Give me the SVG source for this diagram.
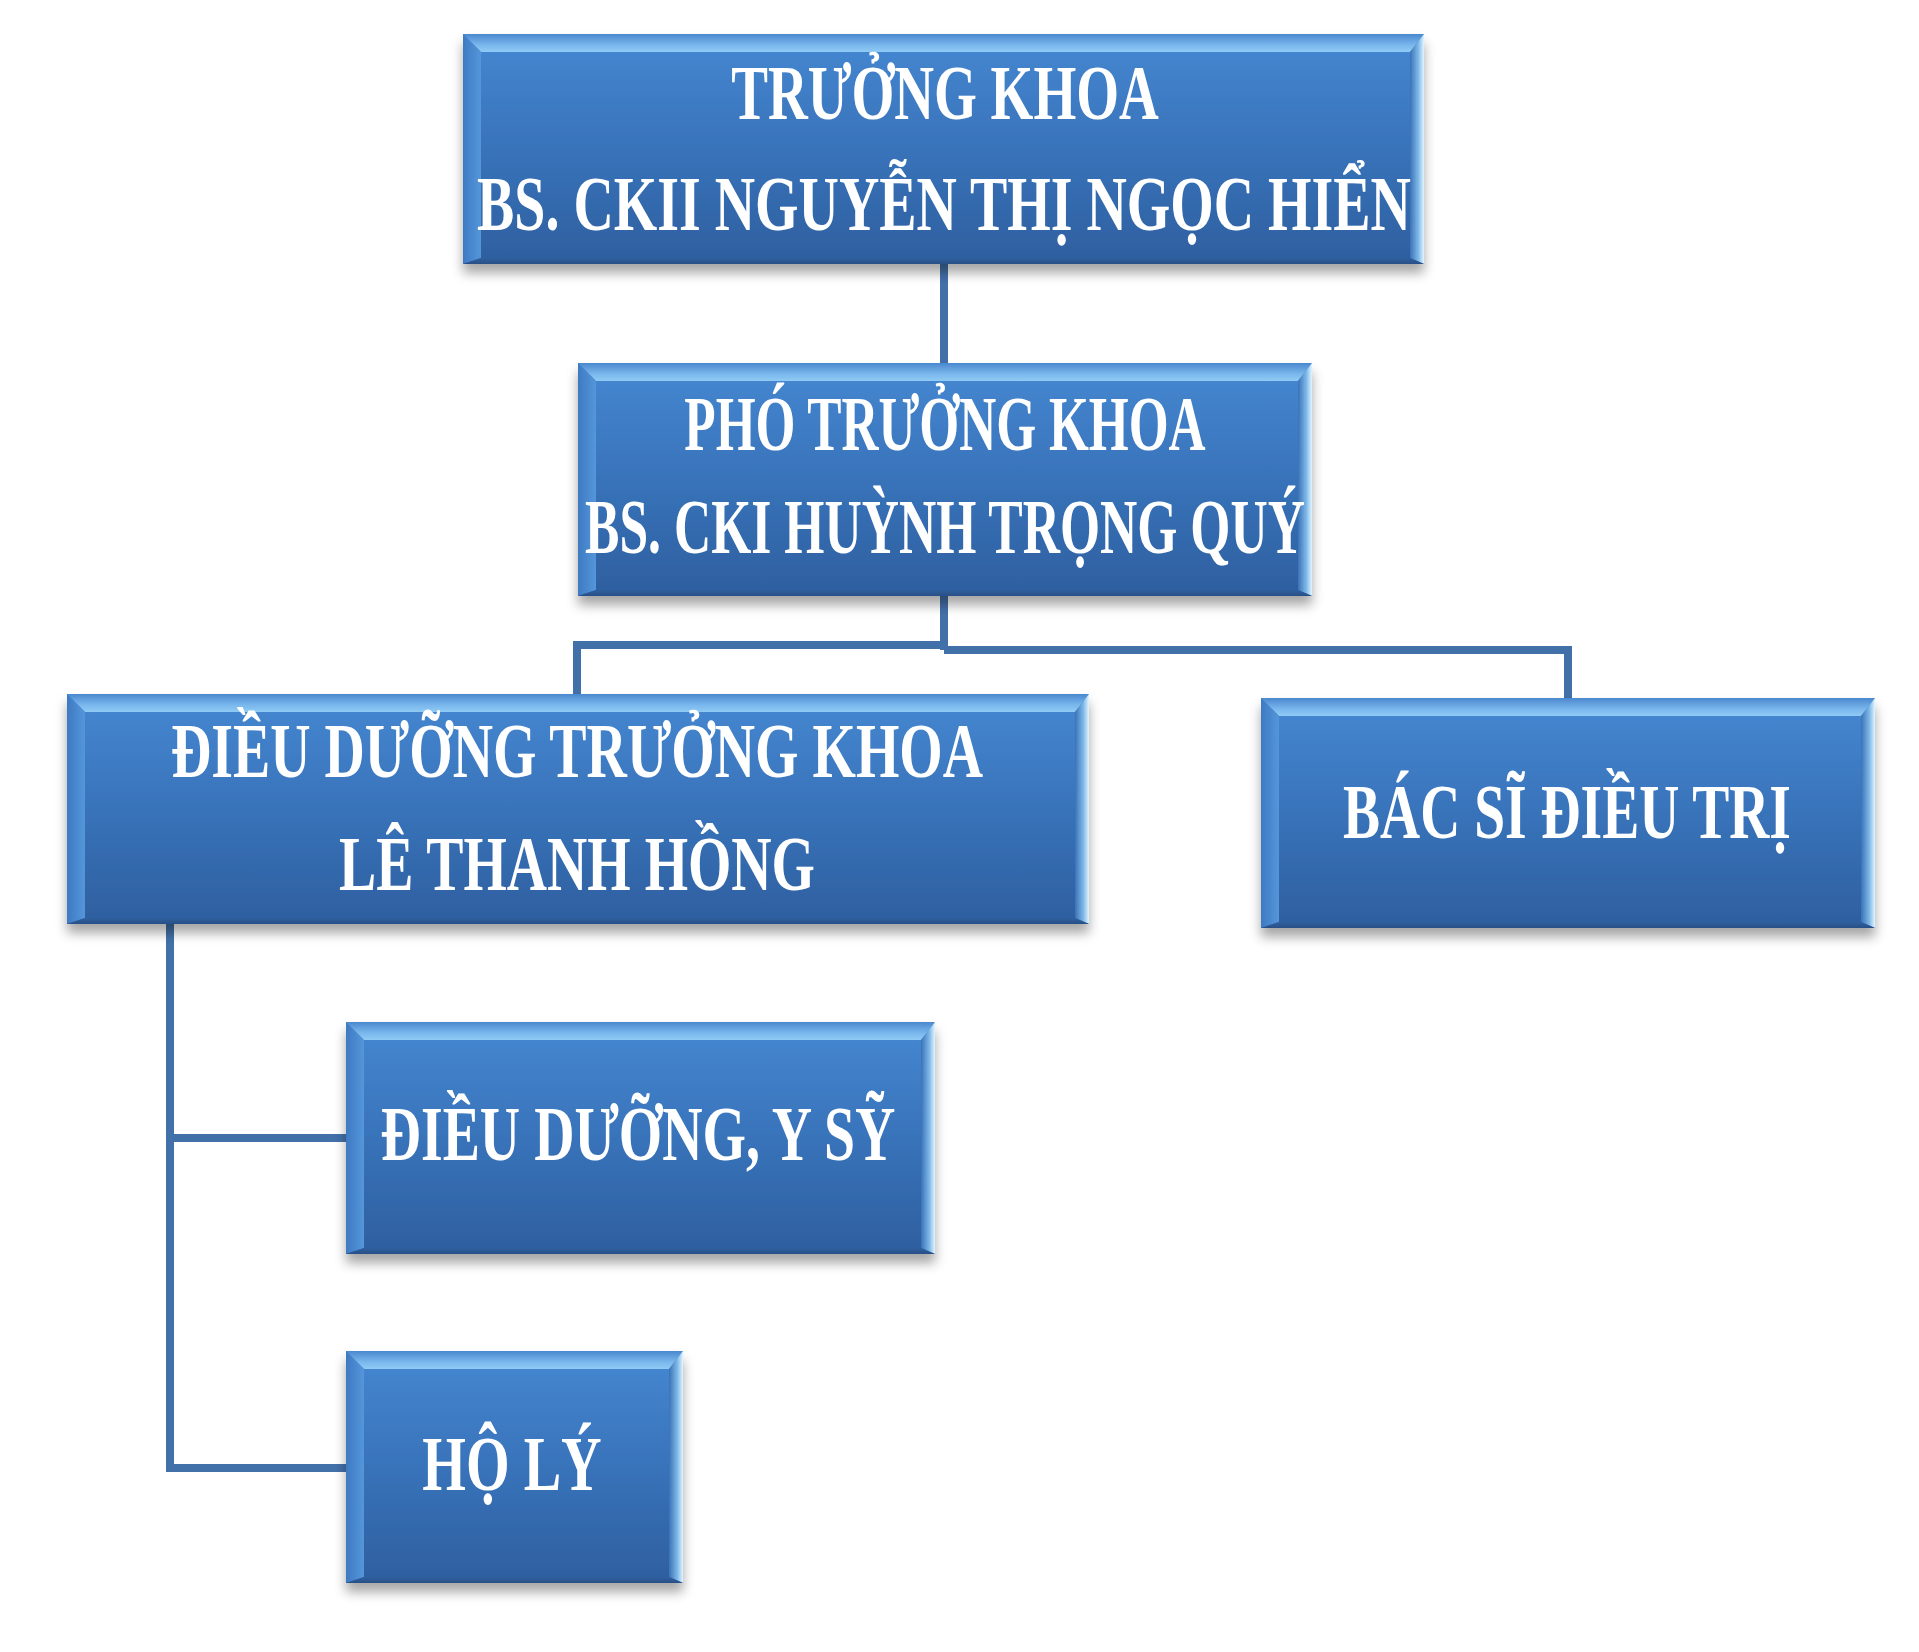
<svg xmlns="http://www.w3.org/2000/svg" width="1919" height="1652" viewBox="0 0 1919 1652">
<defs>
<linearGradient id="face" x1="0" y1="0" x2="0" y2="1">
<stop offset="0" stop-color="#4688D2"/>
<stop offset="0.5" stop-color="#3873BA"/>
<stop offset="1" stop-color="#2E5F9F"/>
</linearGradient>
<linearGradient id="bevTop" x1="0" y1="0" x2="0" y2="1">
<stop offset="0" stop-color="#4A88CF"/>
<stop offset="0.6" stop-color="#79B6EC"/>
<stop offset="1" stop-color="#8FCBF4"/>
</linearGradient>
<linearGradient id="bevLeft" x1="0" y1="0" x2="1" y2="0">
<stop offset="0" stop-color="#3D7AC2"/>
<stop offset="1" stop-color="#5596DA"/>
</linearGradient>
<linearGradient id="bevRight" x1="0" y1="0" x2="1" y2="0">
<stop offset="0" stop-color="#3A72B8"/>
<stop offset="0.6" stop-color="#7FB9E8"/>
<stop offset="1" stop-color="#E2F5FF"/>
</linearGradient>
<linearGradient id="bevBottom" x1="0" y1="0" x2="0" y2="1">
<stop offset="0" stop-color="#30609F"/>
<stop offset="1" stop-color="#284F86"/>
</linearGradient>
<filter id="shadow" x="-5%" y="-10%" width="110%" height="130%">
<feDropShadow dx="0" dy="9" stdDeviation="6" flood-color="#000" flood-opacity="0.35"/>
</filter>
</defs>
<style>
.face{fill:url(#face);filter:url(#shadow)}
.bt{fill:url(#bevTop)}
.bl{fill:url(#bevLeft)}
.br{fill:url(#bevRight)}
.bb{fill:url(#bevBottom)}
.lbl{font-family:"Liberation Serif","Times New Roman",serif;font-weight:bold;font-size:78px;fill:#FFFFFF;text-anchor:middle}
.conn{fill:none;stroke:#4270A8;stroke-width:8;stroke-linejoin:miter;stroke-linecap:butt}
</style>
<rect width="1919" height="1652" fill="#FFFFFF"/>
<g id="connectors">
<path class="conn" d="M944,264 V363"/>
<path class="conn" d="M944,596 V650"/>
<path class="conn" d="M944,645 H577 V694"/>
<path class="conn" d="M944,650 H1568 V698"/>
<path class="conn" d="M170,924 V1468 H346"/>
<path class="conn" d="M170,1138 H346"/>
</g>
<g id="truong-khoa">
<rect class="face" x="463" y="34" width="961" height="230"/>
<polygon class="bt" points="463,34 1424,34 1410,52 481,52"/>
<polygon class="bl" points="463,34 481,52 481,258 463,264"/>
<polygon class="br" points="1424,34 1424,264 1410,258 1410,52"/>
<polygon class="bb" points="463,264 1424,264 1410,258 481,258"/>
<text class="lbl" transform="matrix(0.72 0 0 1 945 0)" x="0" y="119" textLength="594" lengthAdjust="spacingAndGlyphs">TRƯỞNG KHOA</text>
<text class="lbl" transform="matrix(0.72 0 0 1 944 0)" x="0" y="230" textLength="1297" lengthAdjust="spacingAndGlyphs">BS. CKII NGUYỄN THỊ NGỌC HIỂN</text>
</g>
<g id="pho-truong-khoa">
<rect class="face" x="578" y="363" width="734" height="233"/>
<polygon class="bt" points="578,363 1312,363 1298,381 596,381"/>
<polygon class="bl" points="578,363 596,381 596,590 578,596"/>
<polygon class="br" points="1312,363 1312,596 1298,590 1298,381"/>
<polygon class="bb" points="578,596 1312,596 1298,590 596,590"/>
<text class="lbl" transform="matrix(0.72 0 0 1 945 0)" x="0" y="450" textLength="724" lengthAdjust="spacingAndGlyphs">PHÓ TRƯỞNG KHOA</text>
<text class="lbl" transform="matrix(0.72 0 0 1 945 0)" x="0" y="553" textLength="1000" lengthAdjust="spacingAndGlyphs">BS. CKI HUỲNH TRỌNG QUÝ</text>
</g>
<g id="dieu-duong-truong-khoa">
<rect class="face" x="67" y="694" width="1022" height="230"/>
<polygon class="bt" points="67,694 1089,694 1075,712 85,712"/>
<polygon class="bl" points="67,694 85,712 85,918 67,924"/>
<polygon class="br" points="1089,694 1089,924 1075,918 1075,712"/>
<polygon class="bb" points="67,924 1089,924 1075,918 85,918"/>
<text class="lbl" transform="matrix(0.72 0 0 1 577 0)" x="0" y="777" textLength="1128" lengthAdjust="spacingAndGlyphs">ĐIỀU DƯỠNG TRƯỞNG KHOA</text>
<text class="lbl" transform="matrix(0.72 0 0 1 577 0)" x="0" y="890" textLength="661" lengthAdjust="spacingAndGlyphs">LÊ THANH HỒNG</text>
</g>
<g id="bac-si-dieu-tri">
<rect class="face" x="1261" y="698" width="614" height="230"/>
<polygon class="bt" points="1261,698 1875,698 1861,716 1279,716"/>
<polygon class="bl" points="1261,698 1279,716 1279,922 1261,928"/>
<polygon class="br" points="1875,698 1875,928 1861,922 1861,716"/>
<polygon class="bb" points="1261,928 1875,928 1861,922 1279,922"/>
<text class="lbl" transform="matrix(0.72 0 0 1 1567 0)" x="0" y="838" textLength="622" lengthAdjust="spacingAndGlyphs">BÁC SĨ ĐIỀU TRỊ</text>
</g>
<g id="dieu-duong-y-sy">
<rect class="face" x="346" y="1022" width="589" height="232"/>
<polygon class="bt" points="346,1022 935,1022 921,1040 364,1040"/>
<polygon class="bl" points="346,1022 364,1040 364,1248 346,1254"/>
<polygon class="br" points="935,1022 935,1254 921,1248 921,1040"/>
<polygon class="bb" points="346,1254 935,1254 921,1248 364,1248"/>
<text class="lbl" transform="matrix(0.72 0 0 1 638 0)" x="0" y="1160" textLength="715" lengthAdjust="spacingAndGlyphs">ĐIỀU DƯỠNG, Y SỸ</text>
</g>
<g id="ho-ly">
<rect class="face" x="346" y="1351" width="337" height="232"/>
<polygon class="bt" points="346,1351 683,1351 669,1369 364,1369"/>
<polygon class="bl" points="346,1351 364,1369 364,1577 346,1583"/>
<polygon class="br" points="683,1351 683,1583 669,1577 669,1369"/>
<polygon class="bb" points="346,1583 683,1583 669,1577 364,1577"/>
<text class="lbl" transform="matrix(0.72 0 0 1 512 0)" x="0" y="1490" textLength="249" lengthAdjust="spacingAndGlyphs">HỘ LÝ</text>
</g>
</svg>
